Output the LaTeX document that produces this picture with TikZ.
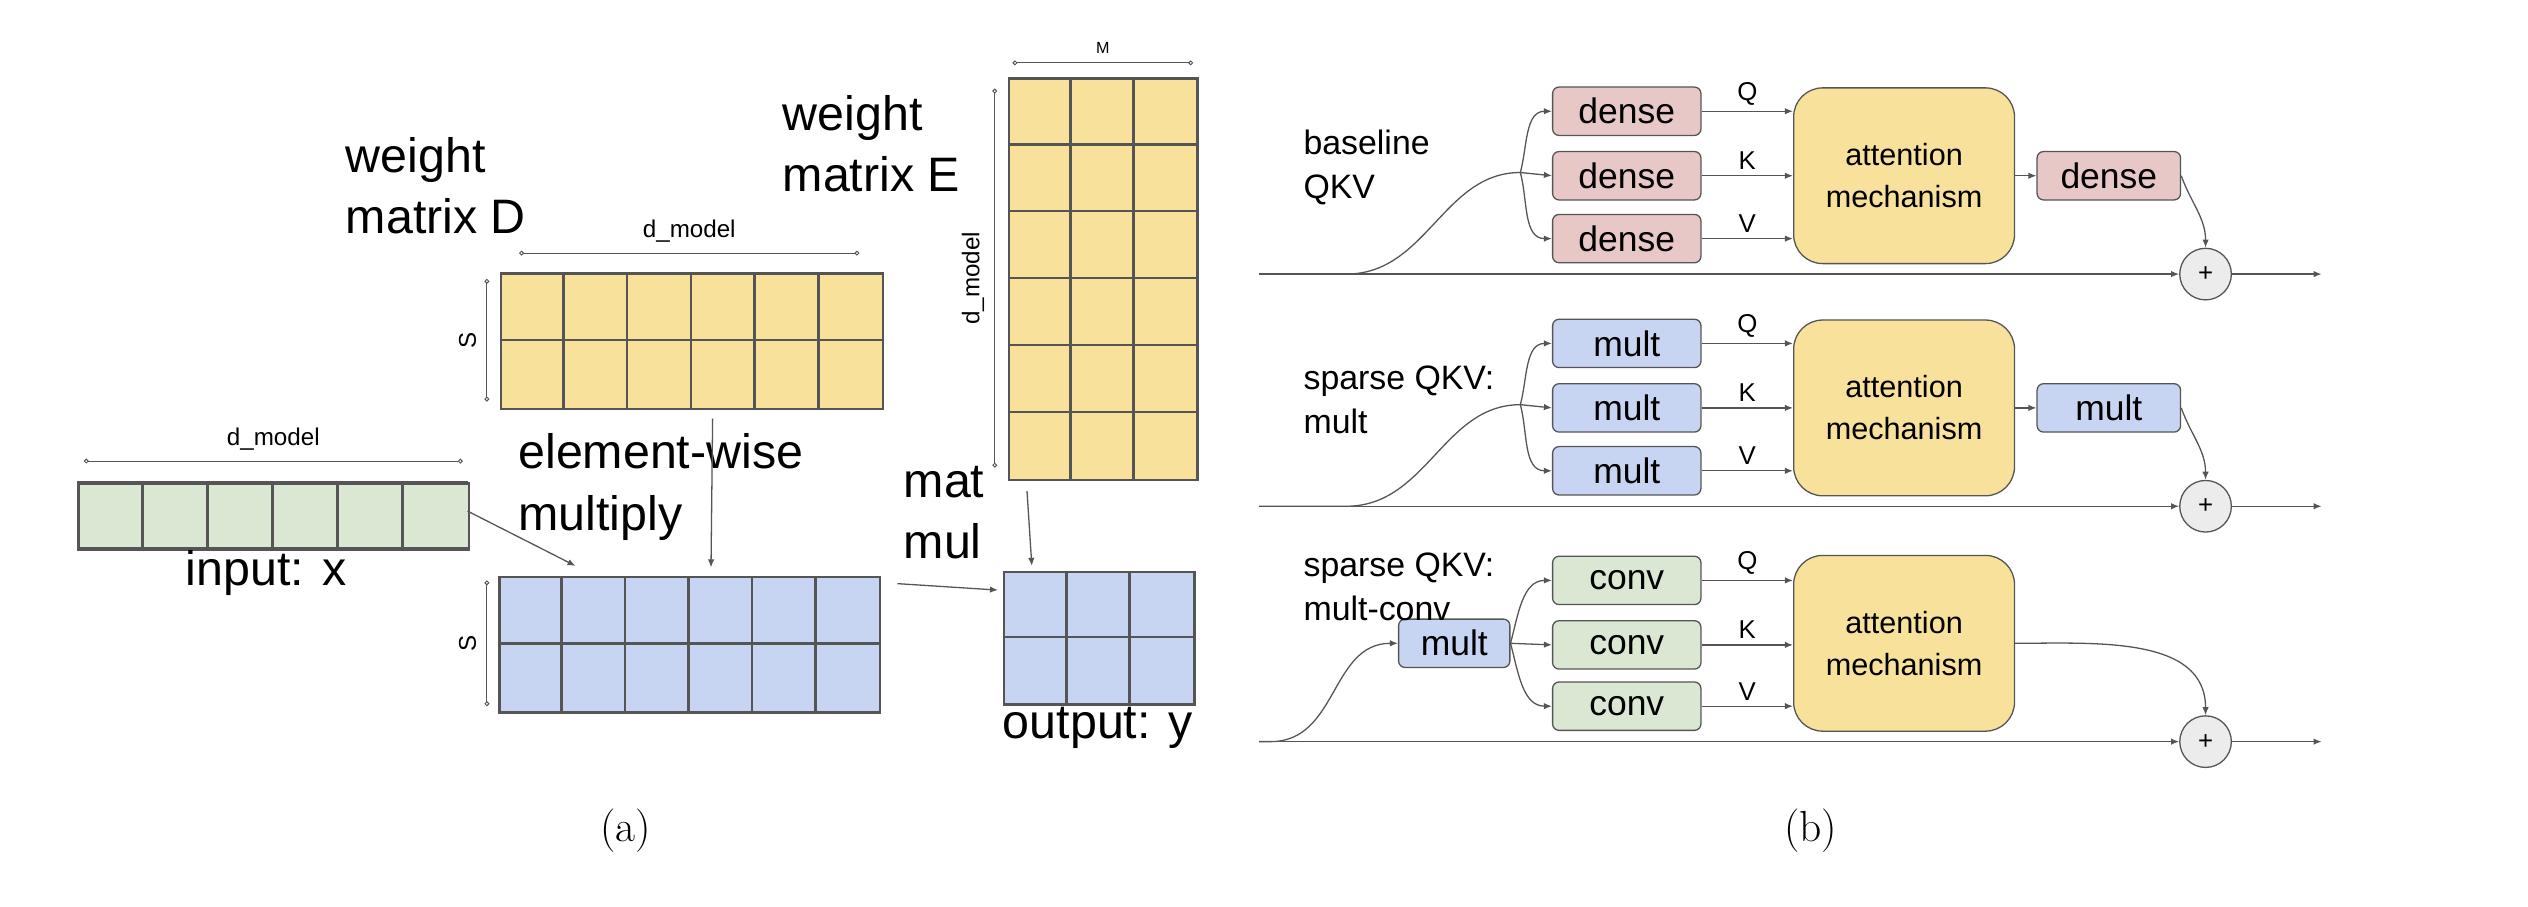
\documentclass[tikz,border=0pt]{standalone}
\usepackage{fontspec}
\newfontfamily\sansf{Liberation Sans}
\usetikzlibrary{positioning, arrows.meta, calc}
\definecolor{yelc}{HTML}{F8E19A}
\definecolor{bluc}{HTML}{C7D5F3}
\definecolor{grnc}{HTML}{D9E7D3}
\definecolor{redc}{HTML}{E8C7C7}
\definecolor{edgec}{HTML}{555555}
\tikzset{
  mat/.style={draw=edgec, line width=1.6pt, anchor=north west, inner sep=0pt},
  cell/.style={draw=edgec, line width=1.6pt},
  dim/.style={draw=edgec, line width=0.6pt, {Circle[open,length=3pt]}-{Circle[open,length=3pt]}},
  big/.style={font=\sansf\fontsize{30}{38}\selectfont, align=left, anchor=west},
  small/.style={font=\sansf\fontsize{15}{16}\selectfont},
  arr/.style={draw=edgec, line width=0.8pt, -{Latex[length=5pt,width=4pt]}},
  ln/.style={draw=edgec, line width=0.8pt},
  blk/.style={draw=edgec, rounded corners=4pt, line width=0.8pt, minimum width=92pt, minimum height=30pt, font=\sansf\fontsize{22}{24}\selectfont},
  att/.style={draw=edgec, rounded corners=18pt, line width=0.8pt, fill=yelc, minimum width=137pt, minimum height=109pt, align=center, font=\sansf\fontsize{19}{26}\selectfont},
  plus/.style={circle, draw=edgec, line width=0.8pt, fill=gray!15, minimum size=32pt, inner sep=0pt, font=\sansf\fontsize{16}{16}\selectfont},
  lab/.style={font=\sansf\fontsize{21}{27}\selectfont, align=left, anchor=west},
  qkv/.style={font=\sansf\fontsize{16}{16}\selectfont}
}
\newcommand{\cells}[5]{% name, width, height, cols, rows
  \foreach \i in {1,...,\numexpr#4-1\relax}
    \draw[cell] ($(#1.north west)+(\i*#2/#4,0)$) -- ++(0,#3);
  \foreach \j in {1,...,\numexpr#5-1\relax}
    \draw[cell] ($(#1.north west)+(0,\j*#3/#5)$) -- ++(#2,0);
}
\begin{document}
\begin{tikzpicture}[x=1pt, y=-1pt]
\useasboundingbox (0,0) rectangle (1568,562);
% (a) matrices
\node[mat, fill=grnc, minimum width=242pt, minimum height=41pt] (inp) at (48,299) {};
\cells{inp}{242}{41}{6}{1}
\node[mat, fill=yelc, minimum width=237pt, minimum height=84pt] (wD) at (310,169) {};
\cells{wD}{237}{84}{6}{2}
\node[mat, fill=bluc, minimum width=236pt, minimum height=84pt] (prod) at (309,357) {};
\cells{prod}{236}{84}{6}{2}
\node[mat, fill=yelc, minimum width=117pt, minimum height=249pt] (wE) at (625,48) {};
\cells{wE}{117}{249}{3}{6}
\node[mat, fill=bluc, minimum width=118pt, minimum height=82pt] (out) at (622,354) {};
\cells{out}{118}{82}{3}{2}
% dimension bars
\draw[dim] (52,286) -- node[above=3pt, small] {d\_model} (287,286);
\draw[dim] (322,157) -- node[above=3pt, small] {d\_model} (533,157);
\draw[dim] (302,173) -- node[left=3pt, small, rotate=90, anchor=south] {S} (302,249);
\draw[dim] (302,360) -- node[left=3pt, small, rotate=90, anchor=south] {S} (302,438);
\draw[dim] (628,39) -- node[above=2pt, font=\sansf\fontsize{10}{10}\selectfont] {M} (740,39);
\draw[dim] (617,55) -- node[left=3pt, small, rotate=90, anchor=south] {d\_model} (617,290);
% labels
\node[big] (lD) at (211,115) {weight\\matrix D};
\node[big] (lE) at (482,89) {weight\\matrix E};
\node[big] (lmul) at (318,302) {element-wise\\multiply};
\node[big] (lmm) at (557,318) {mat\\mul};
\node[big, anchor=north] (lin) at (165,338) {input: x};
\node[big, anchor=north] (lout) at (681,435) {output: y};
\node[font=\fontsize{27}{30}\selectfont] (capa) at (388,515) {(a)};
% arrows
\coordinate (inpE) at (290,317);
\coordinate (prodN) at (357,351);
\draw[arr] (inpE) -- (prodN);
\draw[arr] ($(wD.south west)+(132,5)$) -- ($(prod.north west)+(132,-5)$);
\draw[arr] ($(prod.north east)+(10,5)$) -- ($(out.north west)+(-3,12)$);
\draw[arr] ($(wE.south west)+(12,6)$) -- ($(out.north west)+(18,-3)$);
% (b) rows
\foreach \dy/\txt/\col/\ta/\tb in {0/dense/redc/baseline/QKV, 144/mult/bluc/sparse QKV:/mult} {
  \begin{scope}[shift={(0,\dy)}]
    \node[blk, fill=\col] (q) at (1009,69) {\txt};
    \node[blk, fill=\col] (k) at (1009,109) {\txt};
    \node[blk, fill=\col] (v) at (1009,148) {\txt};
    \node[att] (am) at (1181,109) {attention\\mechanism};
    \node[blk, fill=\col, minimum width=89pt] (o) at (1308,109) {\txt};
    \node[plus] (p) at (1368,170) {+};
    \node[lab] (t) at (805,104) {\ta\\\tb};
    \coordinate (s) at (781,170);
    \coordinate (c) at (835,170);
    \coordinate (f) at (943,107);
    \coordinate (e) at (1440,170);
    \draw[ln] (s) -- (c) .. controls (885,170) and (895,107) .. (f);
    \draw[arr] (f) to[out=75,in=180] (q.west);
    \draw[arr] (f) -- (k.west);
    \draw[arr] (f) to[out=-75,in=180] (v.west);
    \draw[arr] (q.east) -- node[above, qkv] {Q} (q.east -| am.west);
    \draw[arr] (k.east) -- node[above, qkv] {K} (k.east -| am.west);
    \draw[arr] (v.east) -- node[above, qkv] {V} (v.east -| am.west);
    \draw[arr] (am.east) -- (o.west);
    \draw[arr] (o.east) to[out=-70,in=90] (p.north);
    \draw[arr] (s) -- (p.west);
    \draw[arr] (p.east) -- (e);
  \end{scope}
}
% third row
\node[blk, fill=grnc] (q3) at (1009,360) {conv};
\node[blk, fill=grnc] (k3) at (1009,400) {conv};
\node[blk, fill=grnc] (v3) at (1009,438) {conv};
\node[att] (am3) at (1181,399) {attention\\mechanism};
\node[blk, fill=bluc, minimum width=69pt] (m3) at (902,399) {mult};
\node[plus] (p3) at (1368,460) {+};
\node[lab] (t3) at (805,364) {sparse QKV:\\mult-conv};
\coordinate (s3) at (781,460);
\coordinate (e3) at (1440,460);
\draw[arr] (s3) -- (788,460) .. controls (830,460) and (825,399) .. (m3.west);
\draw[arr] (m3.east) to[out=75,in=180] (q3.west);
\draw[arr] (m3.east) -- (k3.west);
\draw[arr] (m3.east) to[out=-75,in=180] (v3.west);
\draw[arr] (q3.east) -- node[above, qkv] {Q} (q3.east -| am3.west);
\draw[arr] (k3.east) -- node[above, qkv] {K} (k3.east -| am3.west);
\draw[arr] (v3.east) -- node[above, qkv] {V} (v3.east -| am3.west);
\draw[arr] (am3.east) to[out=0,in=90] (p3.north);
\draw[arr] (s3) -- (p3.west);
\draw[arr] (p3.east) -- (e3);
\node[font=\fontsize{27}{30}\selectfont] (capb) at (1123,515) {(b)};
\end{tikzpicture}
\end{document}
